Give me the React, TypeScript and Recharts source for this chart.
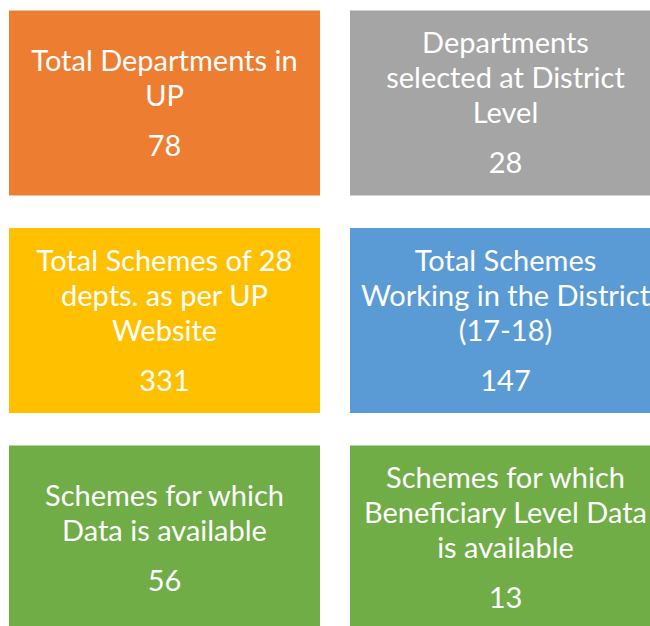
import { ScatterChart, Scatter, XAxis, YAxis } from 'recharts';

// box titles, one entry per text line
const titleLines: string[][] = [
    ['Total Departments in', 'UP'],
    ['Departments', 'selected at District', 'Level'],
    ['Total Schemes of 28', 'depts. as per UP', 'Website'],
    ['Total Schemes', 'Working in the District', '(17-18)'],
    ['Schemes for which', 'Data is available'],
    ['Schemes for which', 'Beneficiary Level Data', 'is available'],
];

const counts = [78, 28, 331, 147, 56, 13];

const boxColors = ['#ED7D31', '#A5A5A5', '#FFC000', '#5B9BD5', '#70AD47', '#70AD47'];

// two boxes per row, filled left to right
const data = titleLines.map((lines, i) => ({
    col: i % 2,
    row: Math.floor(i / 2),
    lines,
    count: counts[i],
    color: boxColors[i],
}));

const BOX_W = 311;
const BOX_H = 185;
const LINE_GAP = 35;
const VALUE_GAP = 50;
const CAP_H = 20.5;

function StatBox(props: any) {
    const { cx, cy, payload } = props;
    const lines: string[] = payload.lines;
    // center the whole text block (titles + number) inside the box
    const blockH = CAP_H + LINE_GAP * (lines.length - 1) + VALUE_GAP;
    const firstBaseline = cy - blockH / 2 + CAP_H;
    const valueBaseline = firstBaseline + LINE_GAP * (lines.length - 1) + VALUE_GAP;

    return (
        <g>
            <rect x={cx - BOX_W / 2} y={cy - BOX_H / 2} width={BOX_W} height={BOX_H} fill={payload.color} />
            <text textAnchor="middle" fill="#ffffff" fontFamily="Lato, 'Open Sans', sans-serif" fontSize={29}>
                {lines.map((line, i) => (
                    <tspan key={i} x={cx} y={firstBaseline + i * LINE_GAP}>{line}</tspan>
                ))}
                <tspan x={cx} y={valueBaseline}>{payload.count}</tspan>
            </text>
        </g>
    );
}

export default function App() {
    return (
        <div style={{ position: 'absolute', left: 0, top: 0, width: 650, height: 626, background: '#ffffff', overflow: 'hidden' }}>
            <ScatterChart width={650} height={626} margin={{ top: 103, right: 144.5, bottom: 88, left: 164.5 }}>
                <XAxis type="number" dataKey="col" domain={[0, 1]} hide />
                <YAxis type="number" dataKey="row" domain={[0, 2]} reversed hide />
                <Scatter data={data} shape={<StatBox />} isAnimationActive={false} />
            </ScatterChart>
        </div>
    );
}
